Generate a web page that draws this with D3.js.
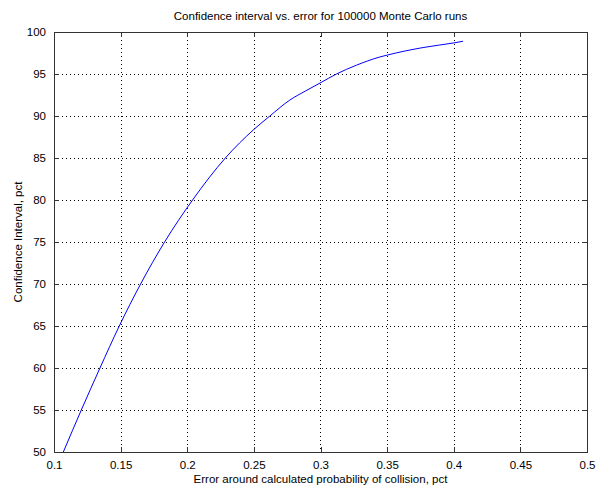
<!DOCTYPE html>
<html>
<head>
  <title>Confidence interval vs. error</title>
  <script src="https://cdn.jsdelivr.net/npm/d3@7"></script>
  <style>
    body { margin: 0; background: #fff; font-family: "Liberation Sans", Arial, sans-serif; }
    .line { fill: none; stroke: #0000ff; stroke-width: 1; }
    .grid line { stroke: #000; stroke-dasharray: 1,3; shape-rendering: crispEdges; }
    .axis path, .axis line { stroke: #333; shape-rendering: crispEdges; }
    .axis text { font-size: 11.5px; fill: #000; font-family: "Liberation Sans", Arial, sans-serif; }
    .label { font-size: 11.5px; fill: #000; }
  </style>
</head>
<body>
  <div id="chart"></div>
  <script>
    // error around probability of collision, pct
    const errorPct = [0.107, 0.1205, 0.1345, 0.149, 0.165, 0.183, 0.204, 0.2286, 0.250, 0.262,
                      0.277, 0.289, 0.3005, 0.312, 0.327, 0.344, 0.350, 0.377, 0.400, 0.407];
    // confidence interval, pct
    const confidence = [50, 55, 60, 65, 70, 75, 80, 85, 88.4, 90,
                        91.9, 93.0, 94.0, 95.0, 96.05, 97.0, 97.25, 98.15, 98.7, 98.9];
    const xTicks = [0.1, 0.15, 0.2, 0.25, 0.3, 0.35, 0.4, 0.45, 0.5];
    const yTicks = [50, 55, 60, 65, 70, 75, 80, 85, 90, 95, 100];

    const data = errorPct.map((e, i) => ({ x: e, y: confidence[i] }));

    const W = 605, H = 488;
    const margin = { top: 32, right: 18, bottom: 36, left: 54 };
    const width = W - margin.left - margin.right;
    const height = H - margin.top - margin.bottom;

    const svg = d3.select("#chart").append("svg")
      .attr("width", W).attr("height", H);
    const g = svg.append("g")
      .attr("transform", `translate(${margin.left},${margin.top})`);

    const x = d3.scaleLinear().domain([0.1, 0.5]).range([0, width]);
    const y = d3.scaleLinear().domain([50, 100]).range([height, 0]);

    // grid
    g.append("g").attr("class", "grid")
      .selectAll("line").data(xTicks.slice(1, -1)).join("line")
      .attr("x1", d => Math.round(x(d)) + 0.5).attr("x2", d => Math.round(x(d)) + 0.5)
      .attr("y1", 0).attr("y2", height);
    g.append("g").attr("class", "grid")
      .selectAll("line").data(yTicks.slice(1, -1)).join("line")
      .attr("y1", d => Math.round(y(d)) + 0.5).attr("y2", d => Math.round(y(d)) + 0.5)
      .attr("x1", 0).attr("x2", width);

    // axes, ticks pointing inward
    g.append("g").attr("class", "axis")
      .attr("transform", `translate(0,${height})`)
      .call(d3.axisBottom(x).tickValues(xTicks).tickSize(-5).tickSizeOuter(0).tickPadding(9)
        .tickFormat(d3.format("")));
    g.append("g").attr("class", "axis")
      .call(d3.axisTop(x).tickValues(xTicks).tickSize(-5).tickSizeOuter(0).tickFormat(""));
    g.append("g").attr("class", "axis")
      .call(d3.axisLeft(y).tickValues(yTicks).tickSize(-5).tickSizeOuter(0).tickPadding(8));
    g.append("g").attr("class", "axis")
      .attr("transform", `translate(${width},0)`)
      .call(d3.axisRight(y).tickValues(yTicks).tickSize(-5).tickSizeOuter(0).tickFormat(""));

    g.append("path").datum(data)
      .attr("class", "line")
      .attr("d", d3.line().curve(d3.curveMonotoneX).x(d => x(d.x)).y(d => y(d.y)));

    svg.append("text").attr("class", "label")
      .attr("x", margin.left + width / 2).attr("y", 20)
      .attr("text-anchor", "middle")
      .text("Confidence interval vs. error for 100000 Monte Carlo runs");
    svg.append("text").attr("class", "label")
      .attr("x", margin.left + width / 2).attr("y", 483)
      .attr("text-anchor", "middle")
      .text("Error around calculated probability of collision, pct");
    svg.append("text").attr("class", "label")
      .attr("transform", `translate(22,${margin.top + height / 2}) rotate(-90)`)
      .attr("text-anchor", "middle")
      .text("Confidence Interval, pct");
  </script>
</body>
</html>
